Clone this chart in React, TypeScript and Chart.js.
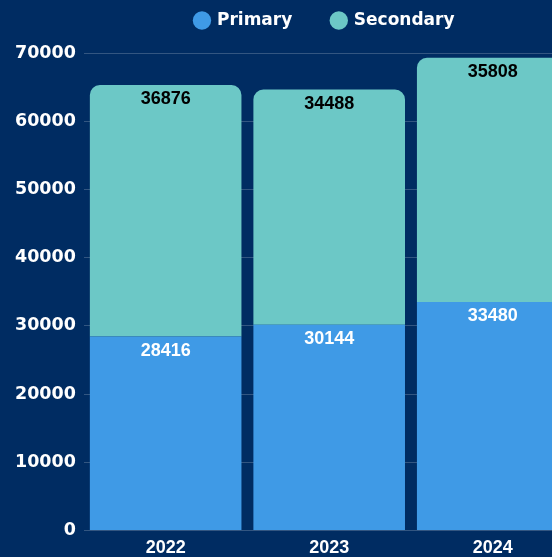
import React, { useEffect, useRef } from 'react';
import { Chart, registerables } from 'chart.js';

Chart.register(...registerables);

const categories = ['2022', '2023', '2024'];
const primaryValues = [28416, 30144, 33480];
const secondaryValues = [36876, 34488, 35808];
const seriesNames = ['Primary', 'Secondary'];
const yMin = 0;
const yMax = 70000;
const yStep = 10000;

const BG = '#002c62';
const PRIMARY = '#3f9ae6';
const SECONDARY = '#6cc8c6';

const legendSpacer = {
  id: 'legendSpacer',
  beforeInit(chart: any) {
    const legend = chart.legend;
    if (!legend) return;
    const origFit = legend.fit;
    legend.fit = function () {
      origFit.call(this);
      this.height += 14;
    };
  },
};

const barValueLabels = {
  id: 'barValueLabels',
  afterDatasetsDraw(chart: any) {
    const ctx = chart.ctx;
    ctx.save();
    ctx.font = 'bold 18px "Liberation Sans"';
    ctx.textAlign = 'center';
    ctx.textBaseline = 'middle';
    chart.data.datasets.forEach((ds: any, di: number) => {
      const meta = chart.getDatasetMeta(di);
      ctx.fillStyle = di === 0 ? '#ffffff' : '#000000';
      meta.data.forEach((bar: any, i: number) => {
        const { x, y } = bar.getProps(['x', 'y'], true);
        ctx.fillText(String(ds.data[i]), x, y + 14);
      });
    });
    ctx.restore();
  },
};

export default function App() {
  const ref = useRef<HTMLCanvasElement | null>(null);

  useEffect(() => {
    if (!ref.current) return;
    const chart = new Chart(ref.current, {
      type: 'bar',
      data: {
        labels: categories,
        datasets: [
          {
            label: seriesNames[0],
            data: primaryValues,
            backgroundColor: PRIMARY,
            borderWidth: 0,
            barPercentage: 0.927,
            categoryPercentage: 1,
          },
          {
            label: seriesNames[1],
            data: secondaryValues,
            backgroundColor: SECONDARY,
            borderWidth: 0,
            borderRadius: { topLeft: 10, topRight: 10, bottomLeft: 0, bottomRight: 0 },
            barPercentage: 0.927,
            categoryPercentage: 1,
          },
        ],
      },
      options: {
        animation: false,
        responsive: false,
        layout: { padding: 0 },
        plugins: {
          legend: {
            position: 'top',
            labels: {
              color: '#ffffff',
              font: { family: '"DejaVu Sans"', size: 17, weight: 'bold' },
              usePointStyle: true,
              pointStyle: 'circle',
              boxWidth: 13,
              boxHeight: 13,
              padding: 40,
            },
          },
          tooltip: { enabled: false },
        },
        scales: {
          x: {
            stacked: true,
            grid: { display: false, drawTicks: false },
            border: { display: false },
            ticks: {
              color: '#ffffff',
              font: { family: '"Liberation Sans"', size: 18, weight: 'bold' },
              padding: 7,
            },
          },
          y: {
            stacked: true,
            min: yMin,
            max: yMax,
            grid: { color: 'rgba(255,255,255,0.2)', drawTicks: false },
            border: { display: false },
            ticks: {
              stepSize: yStep,
              color: '#ffffff',
              font: { family: '"DejaVu Sans"', size: 17.5, weight: 'bold' },
              padding: 8,
              callback: (v: any) => String(v),
            },
          },
          y2: {
            position: 'right',
            display: true,
            grid: { display: false, drawTicks: false },
            border: { display: false },
            ticks: { display: false },
            afterFit: (s: any) => {
              s.width = 68.5;
            },
          },
        },
      },
      plugins: [legendSpacer, barValueLabels],
    } as any);
    return () => chart.destroy();
  }, []);

  return (
    <div
      style={{
        position: 'fixed',
        left: 0,
        top: 0,
        width: 552,
        height: 557,
        overflow: 'hidden',
        background: BG,
      }}
    >
      <canvas
        ref={ref}
        width={636}
        height={594}
        style={{ position: 'absolute', left: 7, top: -28, width: 636, height: 594 }}
      />
    </div>
  );
}
